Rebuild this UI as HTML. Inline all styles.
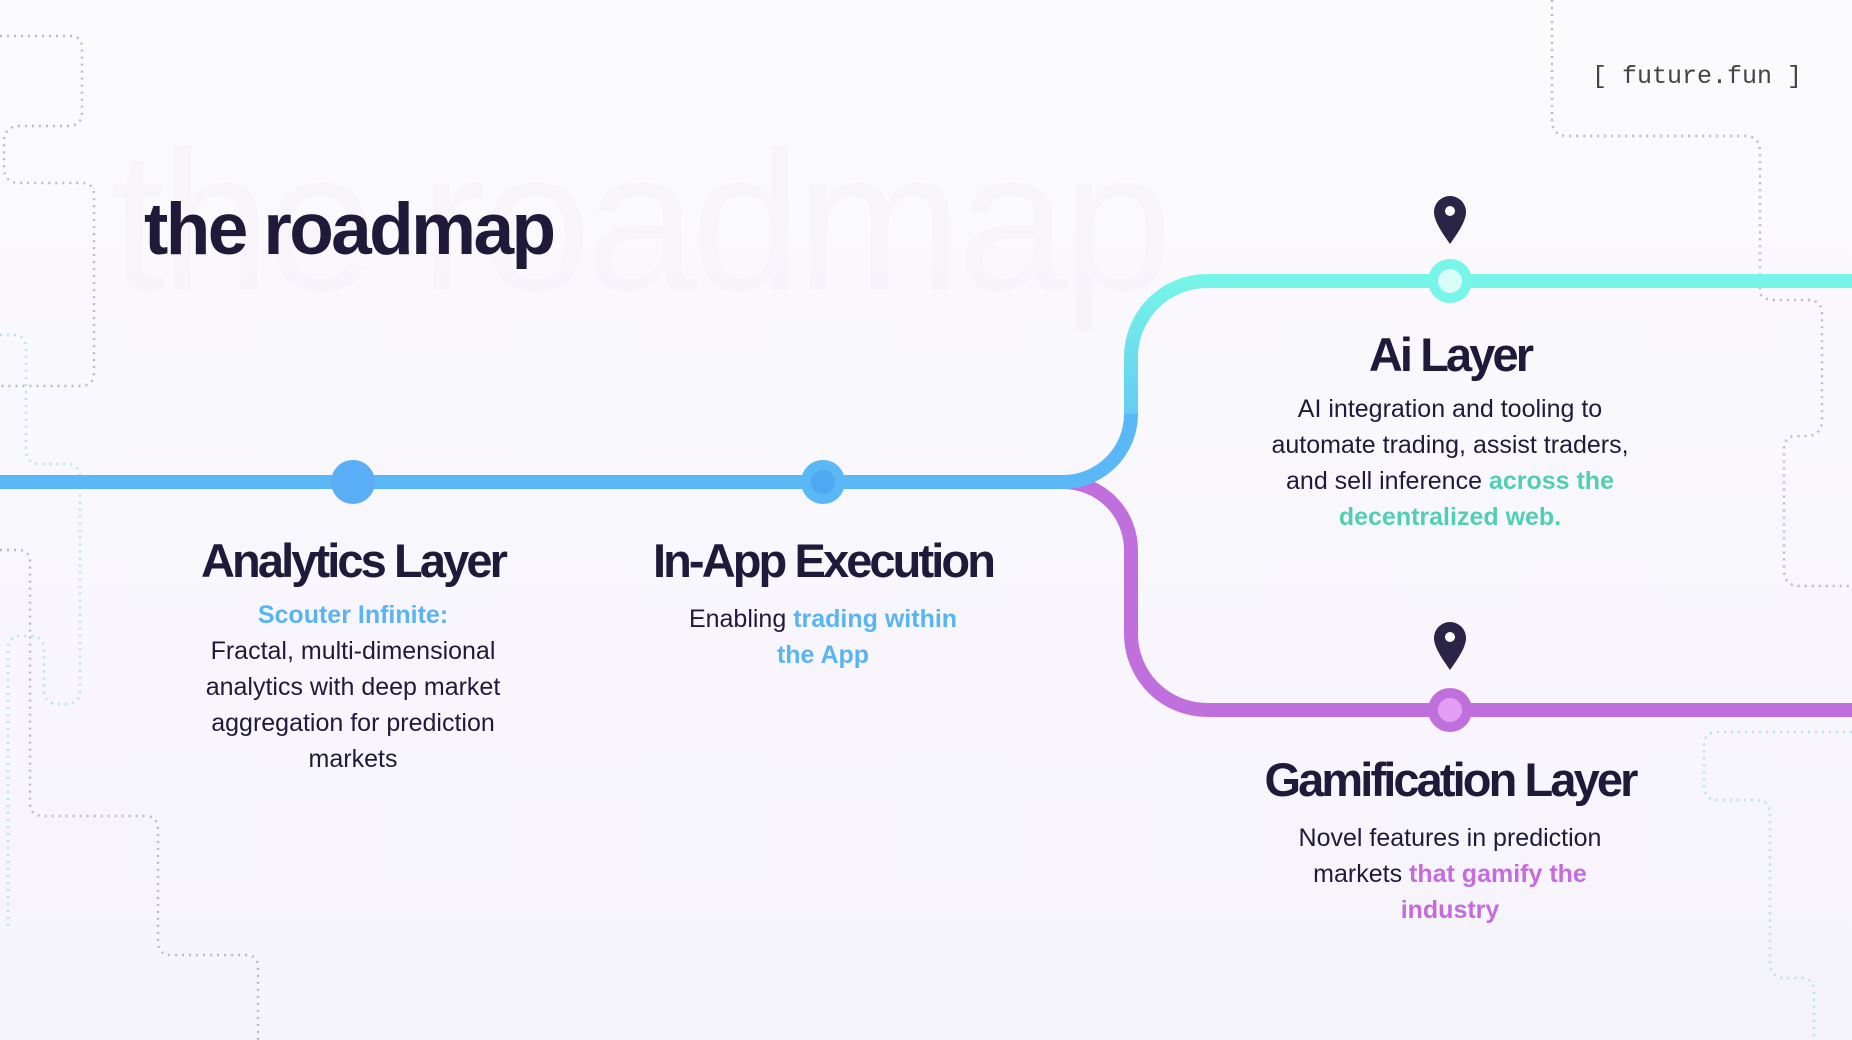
<!DOCTYPE html>
<html><head><meta charset="utf-8"><style>
html,body{margin:0;padding:0}
body{width:1852px;height:1040px;position:relative;overflow:hidden;background:linear-gradient(180deg,#fbfafd,#f6f4fb);font-family:"Liberation Sans",sans-serif;color:#1f1a3a}
.t{position:absolute;text-align:center;transform:translateX(-50%)}
h2{margin:0;font-size:47px;font-weight:bold;letter-spacing:-2.9px;white-space:nowrap;line-height:56px}
p{margin:0;font-size:25px;line-height:36px}
.b{color:#58b4f2;font-weight:bold}.g{color:#4fd0b4;font-weight:bold}.p{color:#c46cdc;font-weight:bold}
</style></head><body>
<svg width="1852" height="1040" style="position:absolute;left:0;top:0">
<defs><linearGradient id="cg" x1="0" y1="482" x2="0" y2="281" gradientUnits="userSpaceOnUse"><stop offset="0" stop-color="#5bb8f7"/><stop offset="1" stop-color="#76f5e8"/></linearGradient></defs>
<text x="110" y="290" font-family="Liberation Sans" font-size="200" fill="#ede8f3" opacity="0.22" letter-spacing="-6">the roadmap</text>
<g fill="none" stroke="#a79cb8" stroke-width="2.5" stroke-dasharray="2 5" opacity="0.7">
<path d="M0 36 H70 Q82 36 82 48 V112 Q82 126 68 126 H20 Q4 126 4 142 V168 Q4 183 20 183 H82 Q94 183 94 196 V372 Q94 386 80 386 H0"/>
<path d="M0 550 H18 Q30 550 30 562 V804 Q30 816 44 816 H145 Q158 816 158 830 V942 Q158 955 172 955 H246 Q258 955 258 968 V1040"/>
<path d="M1552 0 V120 Q1552 136 1568 136 H1745 Q1760 136 1760 152 V290 Q1760 300 1775 300 H1808 Q1822 300 1822 314 V420 Q1822 436 1806 436 H1796 Q1784 436 1784 450 V570 Q1784 586 1800 586 H1852"/>
</g>
<g fill="none" stroke="#8ee0ea" stroke-width="2.5" stroke-dasharray="2 5" opacity="0.7">
<path d="M0 335 H14 Q26 335 26 348 V450 Q26 464 40 464 H66 Q80 464 80 478 V690 Q80 704 66 704 H58 Q44 704 44 690 V650 Q44 636 30 636 H20 Q8 636 8 650 V930"/>
<path d="M1852 732 H1718 Q1704 732 1704 746 V786 Q1704 800 1718 800 H1756 Q1770 800 1770 814 V962 Q1770 978 1786 978 H1800 Q1814 978 1814 992 V1040"/>
</g>
<path d="M1063 482 A68 68 0 0 1 1131 550 V634 A76 76 0 0 0 1207 710 H1852" fill="none" stroke="#c070dc" stroke-width="14"/>
<path d="M1131 416 V357 A76 76 0 0 1 1207 281 H1852" fill="none" stroke="url(#cg)" stroke-width="14"/>
<path d="M0 482 H1063 A68 68 0 0 0 1131 414" fill="none" stroke="#5bb8f7" stroke-width="14"/>
<circle cx="353" cy="482" r="22" fill="#5aaef5"/>
<circle cx="823" cy="482" r="22" fill="#5bb8f7"/><circle cx="823" cy="482" r="12" fill="#4fa8f0"/>
<circle cx="1450" cy="281" r="22" fill="#76f5e8"/><circle cx="1450" cy="281" r="12" fill="#d8fcf6"/>
<circle cx="1450" cy="710" r="22" fill="#c070dc"/><circle cx="1450" cy="710" r="12" fill="#e49df5"/>
<g fill="#2a2447">
<path d="M1450 244 C1440 230 1434 220 1434 212 A16 16 0 0 1 1466 212 C1466 220 1460 230 1450 244Z"/>
<path d="M1450 670 C1440 656 1434 646 1434 638 A16 16 0 0 1 1466 638 C1466 646 1460 656 1450 670Z"/>
</g>
<circle cx="1450" cy="211" r="5" fill="#fff"/><circle cx="1450" cy="637" r="5" fill="#fff"/>
</svg>
<div style="position:absolute;left:144px;top:188px;font-size:73px;font-weight:bold;letter-spacing:-2.6px;line-height:84px">the roadmap</div>
<div style="position:absolute;left:1592px;top:62px;font-family:'Liberation Mono',monospace;font-size:25px;color:#444;white-space:pre">[ future.fun ]</div>
<div class="t" style="left:353px;top:533px;width:360px"><h2>Analytics Layer</h2><p style="margin-top:8px"><span class="b">Scouter Infinite:</span><br>Fractal, multi-dimensional analytics with deep market aggregation for prediction markets</p></div>
<div class="t" style="left:823px;top:533px;width:400px"><h2>In-App Execution</h2><p style="margin:12px auto 0;width:300px">Enabling <span class="b">trading within the App</span></p></div>
<div class="t" style="left:1450px;top:327px;width:400px"><h2>Ai Layer</h2><p style="margin-top:8px">AI integration and tooling to automate trading, assist traders, and sell inference <span class="g">across the decentralized web.</span></p></div>
<div class="t" style="left:1450px;top:752px;width:420px"><h2>Gamification Layer</h2><p style="margin:12px auto 0;width:340px">Novel features in prediction markets <span class="p">that gamify the industry</span></p></div>
</body></html>
